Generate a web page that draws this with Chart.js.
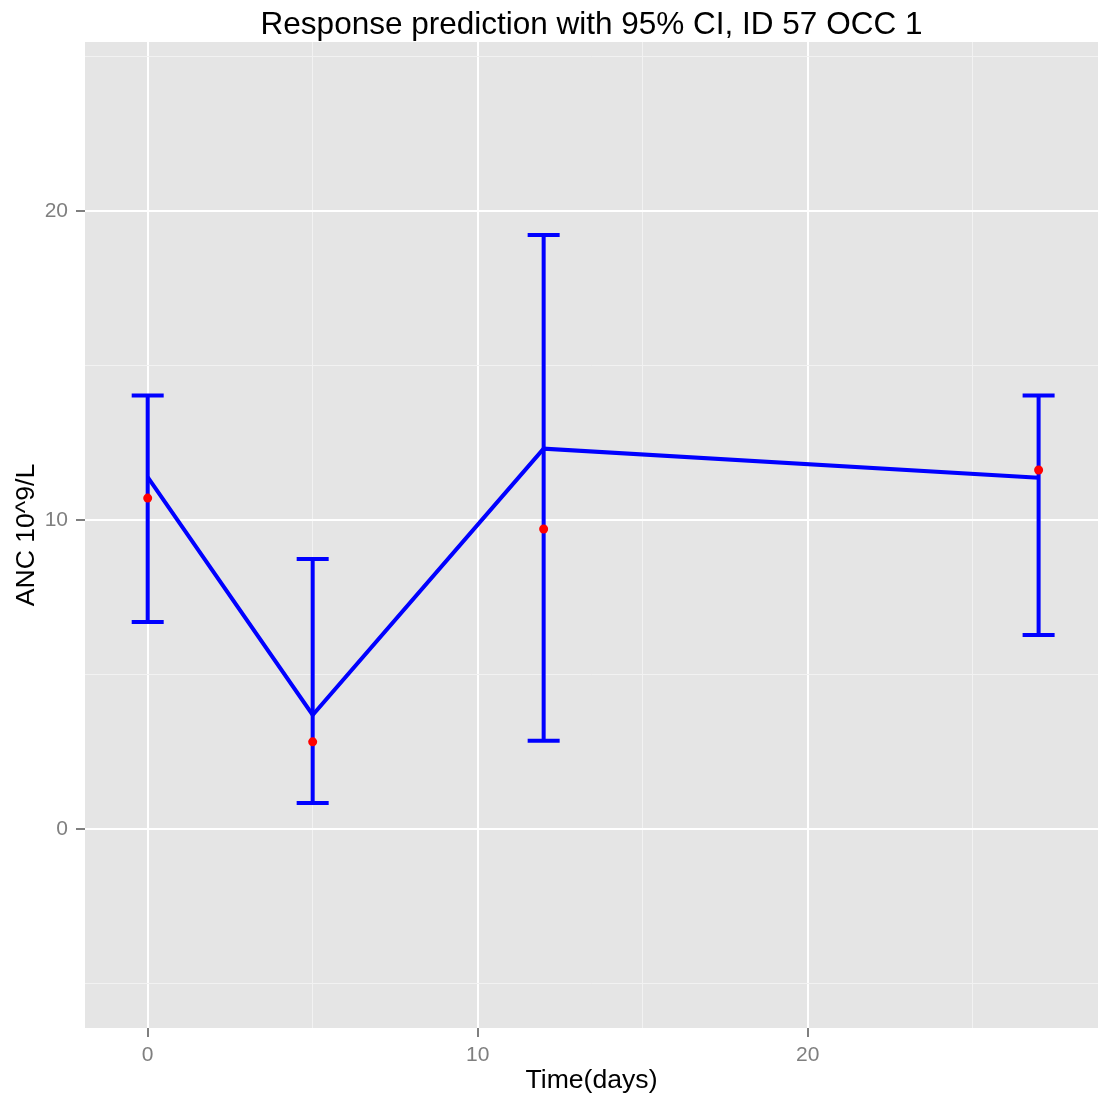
<!DOCTYPE html>
<html>
<head>
<meta charset="utf-8">
<script src="https://cdn.jsdelivr.net/npm/chart.js@4.4.1/dist/chart.umd.min.js"></script>
<style>
  html, body { margin: 0; padding: 0; background: #ffffff; }
  canvas { display: block; }
</style>
</head>
<body>
<canvas id="resp" width="1098" height="1099"></canvas>
<script>
// data
var time      = [0, 5, 12, 27];
var predicted = [11.39, 3.69, 12.31, 11.37];   // blue line
var observed  = [10.71, 2.82, 9.71, 11.62];    // red points
var ciLower   = [6.70, 0.84, 2.86, 6.28];
var ciUpper   = [14.03, 8.74, 19.22, 14.03];

// ticks (major at multiples of 10, minor in between)
var xTicks = [0, 5, 10, 15, 20, 25];
var yTicks = [-5, 0, 5, 10, 15, 20, 25];

var FONT = "'Liberation Sans', Arial, Helvetica, sans-serif";

function isMajor(v) { return v % 10 === 0; }

// gray panel
var panelBg = {
    id: 'panelBg',
    beforeDraw: function(chart) {
        var a = chart.chartArea, ctx = chart.ctx;
        ctx.save();
        ctx.fillStyle = '#E5E5E5';
        ctx.fillRect(a.left, a.top, a.right - a.left, a.bottom - a.top);
        ctx.restore();
    }
};

// 95% CI error bars
var errorBars = {
    id: 'errorBars',
    beforeDatasetsDraw: function(chart) {
        var ctx = chart.ctx, x = chart.scales.x, y = chart.scales.y;
        var half = 16;
        ctx.save();
        ctx.strokeStyle = '#0000FF';
        ctx.lineWidth = 4;
        time.forEach(function(t, i) {
            var px = x.getPixelForValue(t);
            var top = y.getPixelForValue(ciUpper[i]);
            var bot = y.getPixelForValue(ciLower[i]);
            ctx.beginPath();
            ctx.moveTo(px, top); ctx.lineTo(px, bot);
            ctx.moveTo(px - half, top); ctx.lineTo(px + half, top);
            ctx.moveTo(px - half, bot); ctx.lineTo(px + half, bot);
            ctx.stroke();
        });
        ctx.restore();
    }
};

// title centred over the panel
var panelTitle = {
    id: 'panelTitle',
    afterDraw: function(chart) {
        var a = chart.chartArea, ctx = chart.ctx;
        ctx.save();
        ctx.font = '31.5px ' + FONT;
        ctx.fillStyle = '#000000';
        ctx.textAlign = 'center';
        ctx.textBaseline = 'alphabetic';
        ctx.fillText('Response prediction with 95% CI, ID 57 OCC 1', (a.left + a.right) / 2, 34);
        ctx.restore();
    }
};

function gridOpts() {
    return {
        color: function(c) { return isMajor(c.tick.value) ? '#FFFFFF' : '#F2F2F2'; },
        lineWidth: function(c) { return isMajor(c.tick.value) ? 2 : 1; },
        tickColor: function(c) { return isMajor(c.tick.value) ? '#7F7F7F' : 'rgba(0,0,0,0)'; },
        tickWidth: 2,
        tickLength: 9,
        drawTicks: true
    };
}

var ctx = document.getElementById('resp').getContext('2d');
var chart = new Chart(ctx, {
    type: 'scatter',
    data: {
        datasets: [
            {
                label: 'observed',
                data: time.map(function(t, i) { return { x: t, y: observed[i] }; }),
                backgroundColor: '#FF0000',
                borderWidth: 0,
                pointRadius: 4.5,
                showLine: false
            },
            {
                label: 'predicted',
                data: time.map(function(t, i) { return { x: t, y: predicted[i] }; }),
                borderColor: '#0000FF',
                borderWidth: 4,
                pointRadius: 0,
                showLine: true,
                tension: 0
            }
        ]
    },
    options: {
        responsive: false,
        animation: false,
        devicePixelRatio: 1,
        layout: { autoPadding: false, padding: { top: 42, right: 0, left: 0, bottom: 0 } },
        plugins: {
            legend: { display: false },
            tooltip: { enabled: false },
            title: { display: false }
        },
        scales: {
            x: {
                type: 'linear',
                min: -1.9,
                max: 28.8,
                border: { display: false },
                grid: gridOpts(),
                afterBuildTicks: function(s) { s.ticks = xTicks.map(function(v) { return { value: v }; }); },
                afterFit: function(s) { s.height = 71; },
                ticks: {
                    autoSkip: false,
                    maxRotation: 0,
                    padding: 6,
                    color: '#7F7F7F',
                    font: { family: FONT, size: 21 },
                    callback: function(v) { return isMajor(v) ? String(v) : ''; }
                },
                title: {
                    display: true,
                    text: 'Time(days)',
                    color: '#000000',
                    font: { family: FONT, size: 26.6 },
                    padding: { top: 0, bottom: 2 }
                }
            },
            y: {
                type: 'linear',
                min: -6.44,
                max: 25.47,
                border: { display: false },
                grid: gridOpts(),
                afterBuildTicks: function(s) { s.ticks = yTicks.map(function(v) { return { value: v }; }); },
                afterFit: function(s) { s.width = 85; },
                ticks: {
                    autoSkip: false,
                    padding: 8,
                    color: '#7F7F7F',
                    font: { family: FONT, size: 21 },
                    callback: function(v) { return isMajor(v) ? String(v) : ''; }
                },
                title: {
                    display: true,
                    text: 'ANC 10^9/L',
                    color: '#000000',
                    font: { family: FONT, size: 26.6 },
                    padding: { top: 11, bottom: 0 }
                }
            }
        }
    },
    plugins: [panelBg, errorBars, panelTitle]
});
</script>
</body>
</html>
